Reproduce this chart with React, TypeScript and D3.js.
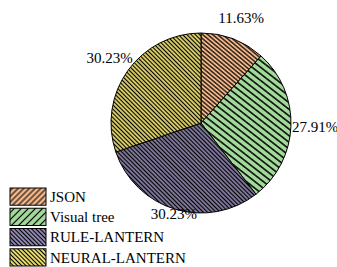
import * as d3 from "d3";
import React, { useRef, useEffect } from "react";

const width = 337;
const height = 267;
const cx = 201;
const cy = 123;
const radius = 90;
const font = "Liberation Serif, Times New Roman, Times, serif";

const categories = ["JSON", "Visual tree", "RULE-LANTERN", "NEURAL-LANTERN"];
const values = [11.63, 27.91, 30.23, 30.23];
const colors = ["#f6b98c", "#a3d99b", "#9f95c0", "#fff27a"];
// hatch spacing / angle in the pie and in the legend
const pieHatch = [
  { gap: 3.2, angle: -50, w: 1.2 },
  { gap: 5.2, angle: -52, w: 1.5 },
  { gap: 3, angle: -45, w: 1.45 },
  { gap: 3, angle: -45, w: 1.35 },
];
const legendHatch = [
  { gap: 4, angle: 45, w: 1.1 },
  { gap: 5, angle: 45, w: 1.1 },
  { gap: 3, angle: -45, w: 1.2 },
  { gap: 3, angle: -45, w: 1.2 },
];
const labelDist = [1.25, 1.27, 1.05, 1.25];

const fmt = (v: number) => v.toFixed(2) + "%";

export default function App() {
  const ref = useRef<SVGSVGElement>(null);

  useEffect(() => {
    if (!ref.current) return;
    const svg = d3.select(ref.current);
    svg.selectAll("*").remove();

    const defs = svg.append("defs");
    const addPattern = (id: string, color: string, h: { gap: number; angle: number; w: number }) => {
      const p = defs.append("pattern")
        .attr("id", id)
        .attr("patternUnits", "userSpaceOnUse")
        .attr("width", h.gap)
        .attr("height", h.gap)
        .attr("patternTransform", `rotate(${h.angle})`);
      p.append("rect").attr("width", h.gap).attr("height", h.gap).attr("fill", color);
      p.append("line")
        .attr("x1", h.gap / 2).attr("y1", 0)
        .attr("x2", h.gap / 2).attr("y2", h.gap)
        .attr("stroke", "#000")
        .attr("stroke-width", h.w);
    };
    colors.forEach((c, i) => {
      addPattern(`pie${i}`, c, pieHatch[i]);
      addPattern(`leg${i}`, c, legendHatch[i]);
    });

    const pie = d3.pie<number>().sort(null).value(d => d);
    const arcs = pie(values);
    const arc = d3.arc<d3.PieArcDatum<number>>().innerRadius(0).outerRadius(radius);

    const g = svg.append("g").attr("transform", `translate(${cx},${cy})`);
    g.selectAll("path")
      .data(arcs)
      .join("path")
      .attr("d", arc)
      .attr("fill", (d, i) => `url(#pie${i})`)
      .attr("stroke", "#000")
      .attr("stroke-width", 1);

    g.selectAll("text")
      .data(arcs)
      .join("text")
      .attr("x", (d, i) => Math.sin((d.startAngle + d.endAngle) / 2) * radius * labelDist[i])
      .attr("y", (d, i) => -Math.cos((d.startAngle + d.endAngle) / 2) * radius * labelDist[i])
      .attr("dy", "0.35em")
      .attr("text-anchor", "middle")
      .attr("font-family", font)
      .attr("font-size", 15)
      .text(d => fmt(d.data));

    const y = d3.scaleBand<string>()
      .domain(categories)
      .range([188, 266])
      .paddingInner(0.15);

    const legend = svg.append("g");
    legend.selectAll("rect")
      .data(categories)
      .join("rect")
      .attr("x", 10)
      .attr("y", d => y(d)!)
      .attr("width", 36)
      .attr("height", y.bandwidth())
      .attr("fill", (d, i) => `url(#leg${i})`)
      .attr("stroke", "#000")
      .attr("stroke-width", 1);
    legend.selectAll("text")
      .data(categories)
      .join("text")
      .attr("x", 50)
      .attr("y", d => y(d)! + y.bandwidth() / 2)
      .attr("dy", "0.35em")
      .attr("font-family", font)
      .attr("font-size", 15)
      .text(d => d);
  }, []);

  return (
    <svg
      ref={ref}
      width={width}
      height={height}
      style={{ position: "absolute", left: 0, top: 0, background: "#fff" }}
    />
  );
}
